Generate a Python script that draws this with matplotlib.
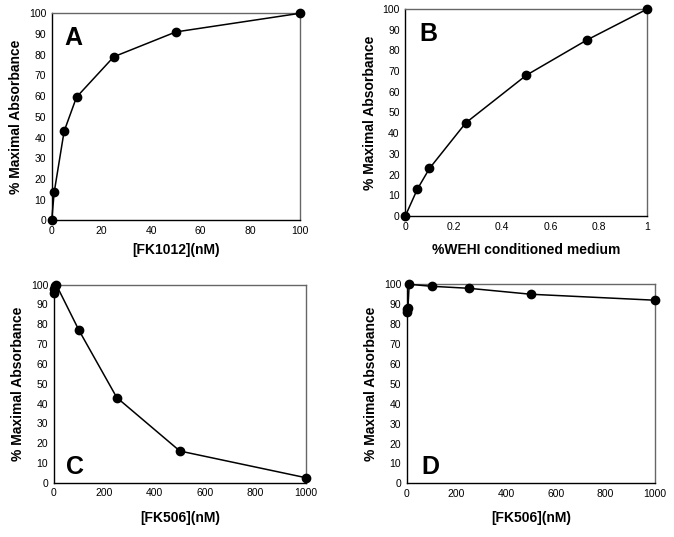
import matplotlib
matplotlib.use("Agg")
import matplotlib.pyplot as plt
from matplotlib.ticker import FuncFormatter

plt.rcParams['font.family'] = ['Liberation Sans', 'DejaVu Sans']

# Panel A
a_x = [0, 1, 5, 10, 25, 50, 100]
a_y = [0, 13.5, 43, 59.5, 79, 91, 100]
# Panel B
b_x = [0, 0.05, 0.1, 0.25, 0.5, 0.75, 1]
b_y = [0, 13, 23, 45, 68, 85, 100]
# Panel C
c_x = [0, 1, 5, 10, 100, 250, 500, 1000]
c_y = [96, 98, 99.5, 100, 77, 43, 16, 2.5]
# Panel D
d_x = [0, 1, 5, 10, 100, 250, 500, 1000]
d_y = [86, 87.5, 88, 100, 99, 98, 95, 92]

W, H = 674, 537
fig = plt.figure(figsize=(W / 100, H / 100), dpi=100)

def add_ax(l, r, t, b):
    return fig.add_axes([l / W, 1 - b / H, (r - l) / W, (b - t) / H])

panels = [
    dict(box=(51.7, 300, 13.3, 220.3), x=a_x, y=a_y, xlim=(0, 100), xt=[0, 20, 40, 60, 80, 100],
         xlabel='[FK1012](nM)', letter='A', lpos=(0.05, 0.88), xlab_y=250),
    dict(box=(405.3, 647.3, 9, 216), x=b_x, y=b_y, xlim=(0, 1), xt=[0, 0.2, 0.4, 0.6, 0.8, 1],
         xlabel='%WEHI conditioned medium', letter='B', lpos=(0.06, 0.88), xlab_y=250),
    dict(box=(53.7, 306, 284.7, 482.7), x=c_x, y=c_y, xlim=(0, 1000), xt=[0, 200, 400, 600, 800, 1000],
         xlabel='[FK506](nM)', letter='C', lpos=(0.05, 0.08), xlab_y=518),
    dict(box=(406.7, 655, 284.3, 483.3), x=d_x, y=d_y, xlim=(0, 1000), xt=[0, 200, 400, 600, 800, 1000],
         xlabel='[FK506](nM)', letter='D', lpos=(0.06, 0.08), xlab_y=518),
]

fmt = FuncFormatter(lambda v, p: ('%g' % v))

for p in panels:
    l, r, t, b = p['box']
    ax = add_ax(l, r, t, b)
    ax.plot(p['x'], p['y'], color='black', lw=1.1, marker='o', ms=6,
            mfc='black', mec='black', clip_on=False, zorder=3)
    ax.set_xlim(*p['xlim'])
    ax.set_ylim(0, 100)
    ax.set_yticks(range(0, 101, 10))
    ax.set_xticks(p['xt'])
    ax.xaxis.set_major_formatter(fmt)
    ax.tick_params(axis='both', labelsize=7.5, length=0, pad=4)
    for s in ['left', 'bottom']:
        ax.spines[s].set_color('black')
        ax.spines[s].set_linewidth(1.0)
    for s in ['top', 'right']:
        ax.spines[s].set_color('#666666')
        ax.spines[s].set_linewidth(1.0)
    ax.set_ylabel('% Maximal Absorbance', fontsize=10, fontweight='bold', labelpad=4)
    fig.text((l + r) / 2 / W, 1 - p['xlab_y'] / H, p['xlabel'], ha='center', va='center',
             fontsize=10, fontweight='bold')
    ax.text(p['lpos'][0], p['lpos'][1], p['letter'], transform=ax.transAxes,
            fontsize=18, fontweight='bold', ha='left', va='center')

fig.savefig('out.png', dpi=100)
